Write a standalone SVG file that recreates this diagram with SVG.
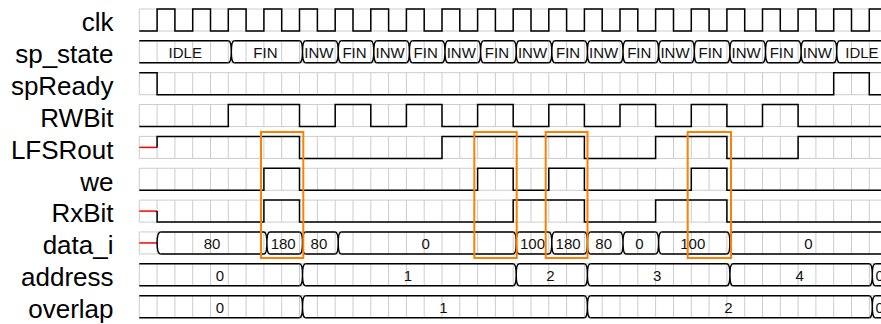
<svg xmlns="http://www.w3.org/2000/svg" width="881" height="324" viewBox="0 0 881 324">
<style>
.lbl{font-family:"Liberation Sans",Arial,sans-serif;font-size:26px;text-anchor:end;fill:#000}
.dt{font-family:"Liberation Sans",Arial,sans-serif;font-size:15px;text-anchor:middle;fill:#111}
.sig{fill:none;stroke:#000;stroke-width:1.5}
.xs{fill:none;stroke:#f00;stroke-width:1.5}
.grid{fill:none;stroke:#ccc;stroke-width:1}
.hl{fill:none;stroke:#ff8000;stroke-width:2}
</style>
<defs>
<path id="grid" class="grid" d="M139.3,0V22M157.1,0V22M174.9,0V22M192.7,0V22M210.5,0V22M228.3,0V22M246.1,0V22M263.9,0V22M281.7,0V22M299.5,0V22M317.4,0V22M335.2,0V22M353,0V22M370.8,0V22M388.6,0V22M406.4,0V22M424.2,0V22M442,0V22M459.8,0V22M477.6,0V22M495.4,0V22M513.2,0V22M531,0V22M548.8,0V22M566.6,0V22M584.4,0V22M602.2,0V22M620,0V22M637.8,0V22M655.6,0V22M673.5,0V22M691.3,0V22M709.1,0V22M726.9,0V22M744.7,0V22M762.5,0V22M780.3,0V22M798.1,0V22M815.9,0V22M833.7,0V22M851.5,0V22M869.3,0V22M139.3,0H887.1M139.3,22H887.1"/>
<path id="tr" class="sig" d="M0,0C2,0 3,4 3,11C3,18 2,22 0,22M6,0C4,0 3,4 3,11C3,18 4,22 6,22"/>
<path id="st" class="sig" d="M3.5,0C1.5,0 0,4 0,11C0,18 1.5,22 3.5,22"/>
<path id="spLine" class="sig" d="M139.3,0H228.3M234.3,0H299.5M305.5,0H335.2M341.2,0H370.8M376.8,0H406.4M412.4,0H442M448,0H477.6M483.6,0H513.2M519.2,0H548.8M554.8,0H584.4M590.4,0H620M626,0H655.6M661.6,0H691.3M697.3,0H726.9M732.9,0H762.5M768.5,0H798.1M804.1,0H833.7M839.7,0H887.1"/>
<path id="dLine" class="sig" d="M160.6,0H263.9M269.9,0H299.5M305.5,0H335.2M341.2,0H513.2M519.2,0H548.8M554.8,0H584.4M590.4,0H620M626,0H655.6M661.6,0H726.9M732.9,0H887.1"/>
<path id="aLine" class="sig" d="M139.3,0H299.5M305.5,0H513.2M519.2,0H584.4M590.4,0H726.9M732.9,0H869.3M875.3,0H887.1"/>
<path id="oLine" class="sig" d="M139.3,0H299.5M305.5,0H584.4M590.4,0H869.3M875.3,0H887.1"/>
</defs>
<rect width="881" height="324" fill="#fff"/>

<g id="clk" transform="translate(0,9)">
<text class="lbl" x="113.5" y="22.3">clk</text>
<use href="#grid"/>
<path class="sig" d="M139.3,22H157.1V0H174.9V22H192.7V0H210.5V22H228.3V0H246.1V22H263.9V0H281.7V22H299.5V0H317.4V22H335.2V0H353V22H370.8V0H388.6V22H406.4V0H424.2V22H442V0H459.8V22H477.6V0H495.4V22H513.2V0H531V22H548.8V0H566.6V22H584.4V0H602.2V22H620V0H637.8V22H655.6V0H673.5V22H691.3V0H709.1V22H726.9V0H744.7V22H762.5V0H780.3V22H798.1V0H815.9V22H833.7V0H851.5V22H869.3V0H887.1"/>
</g>

<g id="sp_state" transform="translate(0,40.85)">
<text class="lbl" x="113.5" y="22.3">sp_state</text>
<use href="#grid"/>
<use href="#spLine"/><use href="#spLine" y="22"/>
<use href="#tr" x="228.3"/><use href="#tr" x="299.5"/><use href="#tr" x="335.2"/><use href="#tr" x="370.8"/><use href="#tr" x="406.4"/><use href="#tr" x="442"/><use href="#tr" x="477.6"/><use href="#tr" x="513.2"/><use href="#tr" x="548.8"/><use href="#tr" x="584.4"/><use href="#tr" x="620"/><use href="#tr" x="655.6"/><use href="#tr" x="691.3"/><use href="#tr" x="726.9"/><use href="#tr" x="762.5"/><use href="#tr" x="798.1"/><use href="#tr" x="833.7"/>
<text class="dt" y="17" x="185.3">IDLE</text>
<text class="dt" y="17" x="265.4">FIN</text>
<text class="dt" y="17" x="318.9">INW</text>
<text class="dt" y="17" x="354.5">FIN</text>
<text class="dt" y="17" x="390.1">INW</text>
<text class="dt" y="17" x="425.7">FIN</text>
<text class="dt" y="17" x="461.3">INW</text>
<text class="dt" y="17" x="496.9">FIN</text>
<text class="dt" y="17" x="532.5">INW</text>
<text class="dt" y="17" x="568.1">FIN</text>
<text class="dt" y="17" x="603.7">INW</text>
<text class="dt" y="17" x="639.3">FIN</text>
<text class="dt" y="17" x="675">INW</text>
<text class="dt" y="17" x="710.6">FIN</text>
<text class="dt" y="17" x="746.2">INW</text>
<text class="dt" y="17" x="781.8">FIN</text>
<text class="dt" y="17" x="817.4">INW</text>
<text class="dt" y="17" x="861.9">IDLE</text>
</g>

<g id="spReady" transform="translate(0,72.7)">
<text class="lbl" x="113.5" y="22.3">spReady</text>
<use href="#grid"/>
<path class="sig" d="M139.3,0H157.1V22H833.7V0H869.3V22H887.1"/>
</g>

<g id="RWBit" transform="translate(0,104.55)">
<text class="lbl" x="113.5" y="22.3">RWBit</text>
<use href="#grid"/>
<path class="sig" d="M139.3,22H228.3V0H299.5V22H335.2V0H370.8V22H406.4V0H442V22H477.6V0H513.2V22H548.8V0H584.4V22H620V0H655.6V22H691.3V0H726.9V22H762.5V0H798.1V22H887.1"/>
</g>

<g id="LFSRout" transform="translate(0,136.4)">
<text class="lbl" x="113.5" y="22.3">LFSRout</text>
<use href="#grid"/>
<path class="xs" d="M139.3,11H157.1"/>
<path class="sig" d="M157.1,11V0H299.5V22H442V0H584.4V22H655.6V0H726.9V22H798.1V0H887.1"/>
</g>

<g id="we" transform="translate(0,168.25)">
<text class="lbl" x="113.5" y="22.3">we</text>
<use href="#grid"/>
<path class="sig" d="M139.3,22H263.9V0H299.5V22H477.6V0H513.2V22H548.8V0H584.4V22H691.3V0H726.9V22H887.1"/>
</g>

<g id="RxBit" transform="translate(0,200.1)">
<text class="lbl" x="113.5" y="22.3">RxBit</text>
<use href="#grid"/>
<path class="xs" d="M139.3,11H157.1"/>
<path class="sig" d="M157.1,11V22H263.9V0H299.5V22H513.2V0H584.4V22H655.6V0H726.9V22H887.1"/>
</g>

<g id="data_i" transform="translate(0,231.95)">
<text class="lbl" x="113.5" y="22.3">data_i</text>
<use href="#grid"/>
<path class="xs" d="M139.3,11H157.1"/>
<use href="#st" x="157.1"/>
<use href="#dLine"/><use href="#dLine" y="22"/>
<use href="#tr" x="263.9"/><use href="#tr" x="299.5"/><use href="#tr" x="335.2"/><use href="#tr" x="513.2"/><use href="#tr" x="548.8"/><use href="#tr" x="584.4"/><use href="#tr" x="620"/><use href="#tr" x="655.6"/><use href="#tr" x="726.9"/>
<text class="dt" y="17" x="212">80</text>
<text class="dt" y="17" x="283.2">180</text>
<text class="dt" y="17" x="318.9">80</text>
<text class="dt" y="17" x="425.7">0</text>
<text class="dt" y="17" x="532.5">100</text>
<text class="dt" y="17" x="568.1">180</text>
<text class="dt" y="17" x="603.7">80</text>
<text class="dt" y="17" x="639.3">0</text>
<text class="dt" y="17" x="692.8">100</text>
<text class="dt" y="17" x="808.5">0</text>
</g>

<g id="address" transform="translate(0,263.8)">
<text class="lbl" x="113.5" y="22.3">address</text>
<use href="#grid"/>
<use href="#aLine"/><use href="#aLine" y="22"/>
<use href="#tr" x="299.5"/><use href="#tr" x="513.2"/><use href="#tr" x="584.4"/><use href="#tr" x="726.9"/><use href="#tr" x="869.3"/>
<text class="dt" y="17" x="220">0</text>
<text class="dt" y="17" x="407.9">1</text>
<text class="dt" y="17" x="550.3">2</text>
<text class="dt" y="17" x="657.1">3</text>
<text class="dt" y="17" x="799.6">4</text>
<text class="dt" y="17" x="879.7">0</text>
</g>

<g id="overlap" transform="translate(0,295.65)">
<text class="lbl" x="113.5" y="22.3">overlap</text>
<use href="#grid"/>
<use href="#oLine"/><use href="#oLine" y="22"/>
<use href="#tr" x="299.5"/><use href="#tr" x="584.4"/><use href="#tr" x="869.3"/>
<text class="dt" y="17" x="220">0</text>
<text class="dt" y="17" x="443.5">1</text>
<text class="dt" y="17" x="728.4">2</text>
<text class="dt" y="17" x="879.7">0</text>
</g>

<g id="highlights">
<rect class="hl" x="261" y="132" width="42.3" height="126"/>
<rect class="hl" x="474.3" y="132" width="42.4" height="126"/>
<rect class="hl" x="545.7" y="132" width="41.8" height="126"/>
<rect class="hl" x="687.7" y="132" width="43.3" height="126"/>
</g>
</svg>
